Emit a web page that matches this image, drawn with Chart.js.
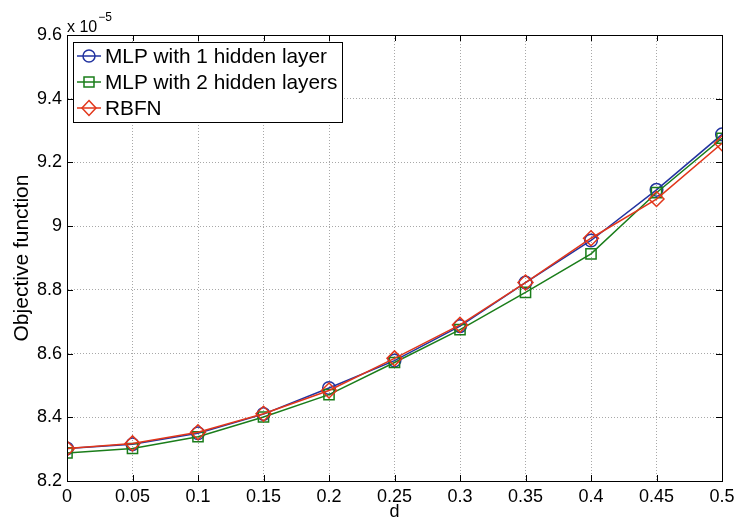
<!DOCTYPE html>
<html>
<head>
<meta charset="utf-8">
<script src="https://cdn.jsdelivr.net/npm/chart.js@4.4.0/dist/chart.umd.min.js"></script>
<style>
  html, body { margin: 0; padding: 0; background: #fff; }
  #wrap { width: 735px; height: 523px; }
</style>
</head>
<body>
<div id="wrap"><canvas id="objChart" width="735" height="523"></canvas></div>
<script>
// values (objective function in units of 1e-5)
const dValues = [0, 0.05, 0.1, 0.15, 0.2, 0.25, 0.3, 0.35, 0.4, 0.45, 0.5];
const mlp1 = [8.302, 8.315, 8.350, 8.410, 8.492, 8.578, 8.686, 8.823, 8.955, 9.114, 9.288];
const mlp2 = [8.288, 8.302, 8.339, 8.401, 8.471, 8.572, 8.675, 8.792, 8.913, 9.105, 9.276];
const rbfn = [8.302, 8.318, 8.353, 8.411, 8.484, 8.585, 8.690, 8.823, 8.962, 9.085, 9.260];

const xTicks = [0, 0.05, 0.1, 0.15, 0.2, 0.25, 0.3, 0.35, 0.4, 0.45, 0.5];
const xTickLabels = ['0', '0.05', '0.1', '0.15', '0.2', '0.25', '0.3', '0.35', '0.4', '0.45', '0.5'];
const yTicks = [8.2, 8.4, 8.6, 8.8, 9.0, 9.2, 9.4, 9.6];
const yTickLabels = ['8.2', '8.4', '8.6', '8.8', '9', '9.2', '9.4', '9.6'];

const seriesNames = ['MLP with 1 hidden layer', 'MLP with 2 hidden layers', 'RBFN'];

const FONT = '"Liberation Sans", Arial, Helvetica, sans-serif';
const BLUE = '#2233a0';
const GREEN = '#1a7d1a';
const RED = '#e2361a';

const toPoints = vals => vals.map((v, i) => ({ x: dValues[i], y: v }));

// box, inner ticks, exponent label and legend, matlab style
const matlabFrame = {
    id: 'matlabFrame',
    afterDraw(chart) {
        const ctx = chart.ctx;
        const area = chart.chartArea;
        const xs = chart.scales.x;
        const ys = chart.scales.y;
        ctx.save();

        // inward tick marks on all four sides
        ctx.strokeStyle = '#000';
        ctx.lineWidth = 1;
        const tl = 6;
        ctx.beginPath();
        xTicks.forEach(v => {
            const px = Math.round(xs.getPixelForValue(v)) + 0.5;
            ctx.moveTo(px, area.bottom);
            ctx.lineTo(px, area.bottom - tl);
            ctx.moveTo(px, area.top);
            ctx.lineTo(px, area.top + tl);
        });
        yTicks.forEach(v => {
            const py = Math.round(ys.getPixelForValue(v)) + 0.5;
            ctx.moveTo(area.left, py);
            ctx.lineTo(area.left + tl, py);
            ctx.moveTo(area.right, py);
            ctx.lineTo(area.right - tl, py);
        });
        ctx.stroke();

        // frame
        ctx.strokeRect(Math.round(area.left) + 0.5, Math.round(area.top) + 0.5,
            Math.round(area.right - area.left), Math.round(area.bottom - area.top));

        // exponent
        ctx.fillStyle = '#000';
        ctx.textBaseline = 'alphabetic';
        ctx.textAlign = 'left';
        ctx.font = '16px ' + FONT;
        ctx.fillText('x 10', area.left, area.top - 3);
        const w = ctx.measureText('x 10').width;
        ctx.font = '12px ' + FONT;
        ctx.fillText('\u22125', area.left + w + 1, area.top - 14);

        // legend
        const bx = area.left + 6, by = area.top + 7, bw = 269, bh = 80;
        ctx.fillStyle = '#fff';
        ctx.fillRect(bx, by, bw, bh);
        ctx.strokeStyle = '#000';
        ctx.strokeRect(bx + 0.5, by + 0.5, bw, bh);
        const colors = [BLUE, GREEN, RED];
        const rowY = [by + 14, by + 40, by + 66];
        ctx.font = '20.8px ' + FONT;
        ctx.textBaseline = 'middle';
        seriesNames.forEach((name, i) => {
            const y = rowY[i];
            const mx = bx + 16;
            ctx.strokeStyle = colors[i];
            ctx.lineWidth = 1.5;
            ctx.beginPath();
            ctx.moveTo(bx + 4, y);
            ctx.lineTo(bx + 28, y);
            ctx.stroke();
            ctx.beginPath();
            if (i === 0) {
                ctx.arc(mx, y, 6, 0, Math.PI * 2);
            } else if (i === 1) {
                ctx.rect(mx - 5, y - 5, 10, 10);
            } else {
                ctx.moveTo(mx, y - 7.5);
                ctx.lineTo(mx + 7, y);
                ctx.lineTo(mx, y + 7.5);
                ctx.lineTo(mx - 7, y);
                ctx.closePath();
            }
            ctx.stroke();
            ctx.fillStyle = '#000';
            ctx.fillText(name, bx + 32, y + 1);
        });
        ctx.restore();
    }
};

const ctx = document.getElementById('objChart').getContext('2d');
new Chart(ctx, {
    type: 'line',
    data: {
        datasets: [
            {
                label: seriesNames[0],
                data: toPoints(mlp1),
                borderColor: BLUE,
                backgroundColor: 'rgba(0,0,0,0)',
                borderWidth: 1.5,
                pointStyle: 'circle',
                pointRadius: 6.3,
                pointBorderWidth: 1.5,
                order: 3
            },
            {
                label: seriesNames[1],
                data: toPoints(mlp2),
                borderColor: GREEN,
                backgroundColor: 'rgba(0,0,0,0)',
                borderWidth: 1.5,
                pointStyle: 'rect',
                pointRadius: 7.2,
                pointBorderWidth: 1.5,
                order: 2
            },
            {
                label: seriesNames[2],
                data: toPoints(rbfn),
                borderColor: RED,
                backgroundColor: 'rgba(0,0,0,0)',
                borderWidth: 1.5,
                pointStyle: 'rectRot',
                pointRadius: 7.5,
                pointBorderWidth: 1.5,
                order: 1
            }
        ]
    },
    options: {
        responsive: false,
        animation: false,
        layout: { padding: { top: 35, right: 13, left: 0, bottom: 0 } },
        plugins: {
            legend: { display: false },
            tooltip: { enabled: false }
        },
        scales: {
            x: {
                type: 'linear',
                min: 0,
                max: 0.5,
                afterBuildTicks: scale => { scale.ticks = xTicks.map(v => ({ value: v })); },
                afterFit: scale => {
                    scale.height = 42;
                    scale.paddingLeft = 0;
                    scale.paddingRight = 0;
                },
                ticks: {
                    autoSkip: false,
                    maxRotation: 0,
                    padding: 5,
                    color: '#000',
                    font: { family: FONT, size: 18 },
                    callback: (v, i) => xTickLabels[i]
                },
                grid: {
                    drawTicks: false,
                    color: '#a8a8a8',
                    lineWidth: 1
                },
                border: { display: true, color: '#000', width: 1, dash: [1, 2] },
                title: {
                    display: true,
                    text: 'd',
                    color: '#000',
                    font: { family: FONT, size: 18 },
                    padding: { top: 0, bottom: 0 }
                }
            },
            y: {
                type: 'linear',
                min: 8.2,
                max: 9.6,
                afterBuildTicks: scale => { scale.ticks = yTicks.map(v => ({ value: v })); },
                afterFit: scale => { scale.width = 67; },
                ticks: {
                    autoSkip: false,
                    padding: 5,
                    color: '#000',
                    font: { family: FONT, size: 18 },
                    callback: (v, i) => yTickLabels[i]
                },
                grid: {
                    drawTicks: false,
                    color: '#a8a8a8',
                    lineWidth: 1
                },
                border: { display: true, color: '#000', width: 1, dash: [1, 2] },
                title: {
                    display: true,
                    text: 'Objective function',
                    color: '#000',
                    font: { family: FONT, size: 21 },
                    padding: { top: 10, bottom: 0 }
                }
            }
        }
    },
    plugins: [matlabFrame]
});
</script>
</body>
</html>
